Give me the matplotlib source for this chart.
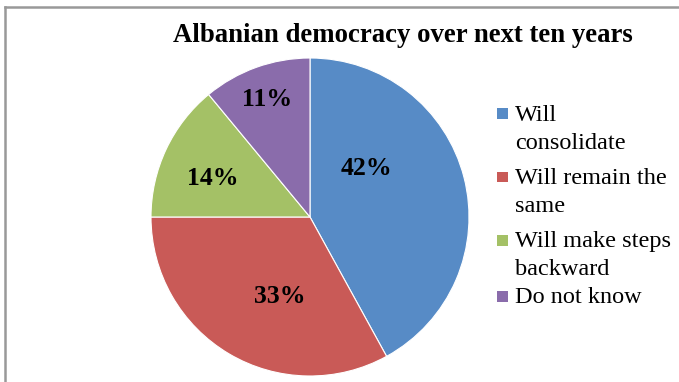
import matplotlib
matplotlib.use("Agg")
import matplotlib.pyplot as plt
from matplotlib.patches import Rectangle
from matplotlib.lines import Line2D

plt.rcParams['font.family'] = ['Liberation Serif', 'DejaVu Serif']

# survey answers
labels = ['Will\nconsolidate', 'Will remain the\nsame', 'Will make steps\nbackward', 'Do not know']
shares = [42, 33, 14, 11]
colors = ['#578BC6', '#C95A57', '#A4C166', '#8A6CAB']
# where each percentage sits inside its slice (unit-radius coords)
label_pos = [(0.357, 0.306), (-0.189, -0.501), (-0.610, 0.245), (-0.267, 0.736)]

W, H = 679, 382
fig = plt.figure(figsize=(W / 100, H / 100), dpi=100)

# pie axes: centre (310, 217) px, radius 159 px
ax = fig.add_axes([151 / W, (H - 376) / H, 318 / W, 318 / H])
ax.pie(shares, colors=colors, startangle=90, counterclock=False,
       wedgeprops=dict(edgecolor='white', linewidth=0.8))
ax.set_xlim(-1, 1)
ax.set_ylim(-1, 1)
ax.set_aspect('equal')
ax.axis('off')

for v, (x, y) in zip(shares, label_pos):
    ax.text(x, y, f'{v}%', ha='center', va='center', fontsize=18.5, fontweight='bold')

fig.text(402.5 / W, 1 - 42.5 / H, 'Albanian democracy over next ten years',
         ha='center', va='baseline', fontsize=19.3, fontweight='bold')

# legend, drawn by hand so the swatch sits on the first line of each label
baselines = [120.7, 184, 247, 303]
line_h = 28
for lab, c, b in zip(labels, colors, baselines):
    fig.add_artist(Rectangle((497 / W, 1 - (b - 1.5) / H), 11 / W, 11 / H,
                             transform=fig.transFigure, facecolor=c, edgecolor='none'))
    for i, part in enumerate(lab.split('\n')):
        fig.text(515 / W, 1 - (b + i * line_h) / H, part, ha='left', va='baseline',
                 fontsize=17.5)

# chart-area border (top and left visible)
fig.add_artist(Line2D([4.5 / W, 4.5 / W], [0, 1 - 6.5 / H], transform=fig.transFigure,
                      color='#999999', linewidth=1.8))
fig.add_artist(Line2D([4.5 / W, 1], [1 - 6.5 / H, 1 - 6.5 / H], transform=fig.transFigure,
                      color='#999999', linewidth=1.8))

fig.savefig('out.png', dpi=100)
